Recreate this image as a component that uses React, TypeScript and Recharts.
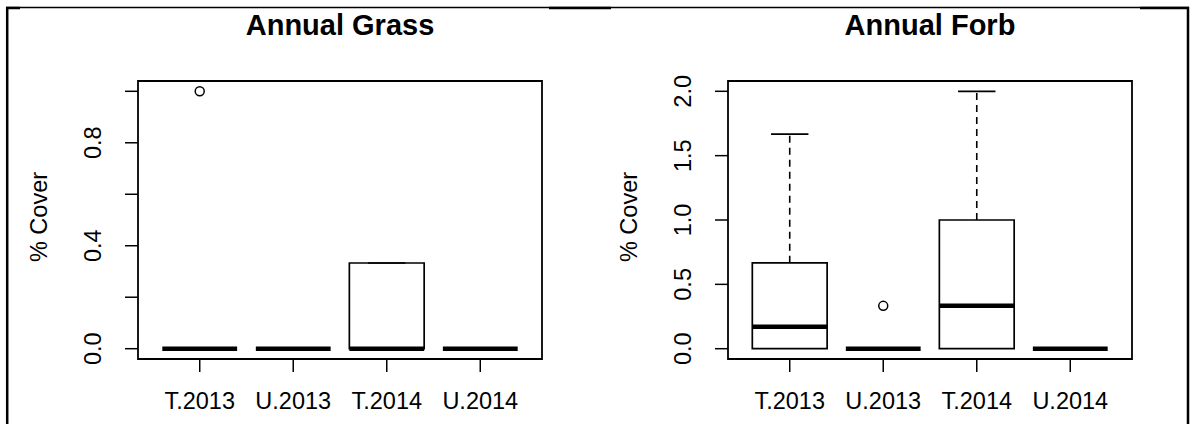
import React from 'react';
import {
  ComposedChart,
  XAxis,
  YAxis,
  Scatter,
  ReferenceArea,
  ReferenceLine,
} from 'recharts';

const categories = ['T.2013', 'U.2013', 'T.2014', 'U.2014'];

// Annual Grass (box stats per group)
const grassMin = [0, 0, 0, 0];
const grassQ1 = [0, 0, 0, 0];
const grassMedian = [0, 0, 0, 0];
const grassQ3 = [0, 0, 0.333, 0];
const grassMax = [0, 0, 0.333, 0];
const grassOutliers = [[1.0], [], [], []];
const grassTicks = [0, 0.2, 0.4, 0.6, 0.8, 1.0];
const grassTickLabels = ['0.0', '', '0.4', '', '0.8', ''];

// Annual Forb
const forbMin = [0, 0, 0, 0];
const forbQ1 = [0, 0, 0, 0];
const forbMedian = [0.17, 0, 0.333, 0];
const forbQ3 = [0.667, 0, 1.0, 0];
const forbMax = [1.667, 0, 2.0, 0];
const forbOutliers = [[], [0.333], [], []];
const forbTicks = [0, 0.5, 1.0, 1.5, 2.0];
const forbTickLabels = ['0.0', '0.5', '1.0', '1.5', '2.0'];

const FONT = '"Liberation Sans", Arial, sans-serif';
const FS = 23.5;
const X_DOMAIN: [number, number] = [0.34, 4.66];
const BOX_HALF = 0.4;
const CAP_HALF = 0.2;

const makeYTick = (ticks: number[], labels: string[]) => (props: any) => {
  const { x, y, payload } = props;
  const idx = ticks.findIndex((t) => Math.abs(t - payload.value) < 1e-9);
  const label = idx >= 0 ? labels[idx] : '';
  return (
    <text
      x={x}
      y={y}
      transform={`rotate(-90 ${x} ${y})`}
      textAnchor="middle"
      fontSize={FS}
      fontFamily={FONT}
      fill="#000"
    >
      {label}
    </text>
  );
};

const YTitle = (props: any) => {
  const vb = props.viewBox || { x: 0, y: 81, width: 138, height: 278 };
  const x = vb.x + 47;
  const y = vb.y + vb.height / 2 - 3;
  return (
    <text
      x={x}
      y={y}
      transform={`rotate(-90 ${x} ${y})`}
      textAnchor="middle"
      fontSize={FS}
      fontFamily={FONT}
      fill="#000"
    >
      % Cover
    </text>
  );
};

interface BoxPanelProps {
  min: number[];
  q1: number[];
  median: number[];
  q3: number[];
  max: number[];
  outliers: number[][];
  ticks: number[];
  tickLabels: string[];
  yDomain: [number, number];
}

const BoxPanel = ({ min, q1, median, q3, max, outliers, ticks, tickLabels, yDomain }: BoxPanelProps) => {
  const rows = categories.map((c, i) => ({ x: i + 1, name: c, median: median[i] }));
  const outlierPoints = outliers.flatMap((vals, i) => vals.map((v) => ({ x: i + 1, y: v })));

  return (
    <ComposedChart
      width={590}
      height={434}
      data={rows}
      margin={{ top: 81, right: 48, bottom: 15, left: 0 }}
    >
      <XAxis
        dataKey="x"
        type="number"
        domain={X_DOMAIN}
        allowDataOverflow
        ticks={[1, 2, 3, 4]}
        interval={0}
        tickFormatter={(v) => categories[v - 1]}
        height={60}
        axisLine={false}
        tickSize={13}
        tickMargin={20}
        tickLine={{ stroke: '#000', strokeWidth: 1.5 }}
        tick={{ fontSize: FS, fontFamily: FONT, fill: '#000' }}
      />
      <YAxis
        type="number"
        domain={yDomain}
        allowDataOverflow
        ticks={ticks}
        interval={0}
        width={138}
        axisLine={false}
        tickSize={13}
        tickMargin={24}
        tickLine={{ stroke: '#000', strokeWidth: 1.5 }}
        tick={makeYTick(ticks, tickLabels)}
        label={<YTitle />}
      />
      <ReferenceArea
        x1={X_DOMAIN[0]}
        x2={X_DOMAIN[1]}
        y1={yDomain[0]}
        y2={yDomain[1]}
        fill="none"
        stroke="#000"
        strokeWidth={1.8}
      />
      {categories.map((c, i) => (
        <ReferenceArea
          key={`box-${c}`}
          x1={i + 1 - BOX_HALF}
          x2={i + 1 + BOX_HALF}
          y1={q1[i]}
          y2={q3[i]}
          fill="none"
          stroke="#000"
          strokeWidth={1.7}
        />
      ))}
      {categories.map((c, i) =>
        max[i] > q3[i] ? (
          <ReferenceLine
            key={`uw-${c}`}
            segment={[{ x: i + 1, y: q3[i] }, { x: i + 1, y: max[i] }]}
            stroke="#000"
            strokeWidth={1.6}
            strokeDasharray="7 5"
          />
        ) : null
      )}
      {categories.map((c, i) =>
        min[i] < q1[i] ? (
          <ReferenceLine
            key={`lw-${c}`}
            segment={[{ x: i + 1, y: min[i] }, { x: i + 1, y: q1[i] }]}
            stroke="#000"
            strokeWidth={1.6}
            strokeDasharray="7 5"
          />
        ) : null
      )}
      {categories.map((c, i) => (
        <ReferenceLine
          key={`cap-hi-${c}`}
          segment={[{ x: i + 1 - CAP_HALF, y: max[i] }, { x: i + 1 + CAP_HALF, y: max[i] }]}
          stroke="#000"
          strokeWidth={1.7}
        />
      ))}
      {categories.map((c, i) => (
        <ReferenceLine
          key={`med-${c}`}
          segment={[{ x: i + 1 - BOX_HALF, y: median[i] }, { x: i + 1 + BOX_HALF, y: median[i] }]}
          stroke="#000"
          strokeWidth={4.5}
        />
      ))}
      <Scatter
        data={outlierPoints}
        dataKey="y"
        isAnimationActive={false}
        shape={(p: any) => (
          <circle cx={p.cx} cy={p.cy} r={4.5} fill="none" stroke="#000" strokeWidth={1.5} />
        )}
      />
    </ComposedChart>
  );
};

const App = () => {
  return (
    <div
      style={{
        position: 'absolute',
        left: 0,
        top: 0,
        width: 1193,
        height: 434,
        background: '#fff',
        overflow: 'hidden',
      }}
    >
      <div style={{ position: 'absolute', left: 0, top: 0 }}>
        <BoxPanel
          min={grassMin}
          q1={grassQ1}
          median={grassMedian}
          q3={grassQ3}
          max={grassMax}
          outliers={grassOutliers}
          ticks={grassTicks}
          tickLabels={grassTickLabels}
          yDomain={[-0.04, 1.04]}
        />
      </div>
      <div style={{ position: 'absolute', left: 590, top: 0 }}>
        <BoxPanel
          min={forbMin}
          q1={forbQ1}
          median={forbMedian}
          q3={forbQ3}
          max={forbMax}
          outliers={forbOutliers}
          ticks={forbTicks}
          tickLabels={forbTickLabels}
          yDomain={[-0.08, 2.08]}
        />
      </div>
      <svg
        width={1193}
        height={434}
        style={{ position: 'absolute', left: 0, top: 0, pointerEvents: 'none' }}
      >
        <line x1={6} y1={7.5} x2={1189} y2={7.5} stroke="#000" strokeWidth={1.3} />
        <line x1={6} y1={8} x2={20} y2={8} stroke="#000" strokeWidth={2.5} />
        <line x1={549} y1={8} x2={611} y2={8} stroke="#000" strokeWidth={2.5} />
        <line x1={1140} y1={8} x2={1189} y2={8} stroke="#000" strokeWidth={2.5} />
        <line x1={7.2} y1={7} x2={7.2} y2={424} stroke="#000" strokeWidth={2.5} />
        <line x1={1188} y1={7} x2={1188} y2={424} stroke="#000" strokeWidth={2.5} />
        <text x={340} y={35} textAnchor="middle" fontSize={29} fontWeight="bold" fontFamily={FONT} fill="#000">
          Annual Grass
        </text>
        <text x={930} y={35} textAnchor="middle" fontSize={29} fontWeight="bold" fontFamily={FONT} fill="#000">
          Annual Forb
        </text>
      </svg>
    </div>
  );
};

export default App;
